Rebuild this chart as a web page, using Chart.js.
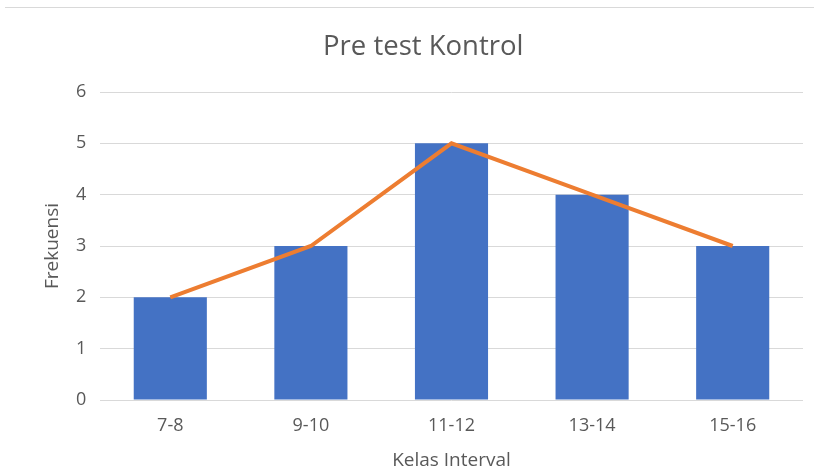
<!DOCTYPE html>
<html lang="id">
<head>
    <meta charset="UTF-8">
    <title>Pre test Kontrol</title>
    <script src="https://cdn.jsdelivr.net/npm/chart.js"></script>
    <style>
        html, body { margin: 0; padding: 0; background: #fff; }
        .wrap { position: relative; width: 814px; height: 470px; }
        .garis-atas { position: absolute; left: 5px; right: 0; top: 7px; border-top: 1px solid #d9d9d9; }
        #grafik { position: absolute; left: 0; top: 0; }
    </style>
</head>
<body>
<div class="wrap">
    <div class="garis-atas"></div>
    <canvas id="grafik" width="814" height="470"></canvas>
</div>
<script>
    const kelas = ['7-8', '9-10', '11-12', '13-14', '15-16'];
    const frekuensi = [2, 3, 5, 4, 3];
    const garisFrekuensi = [2, 3, 5, 4, 3];
    const yTicks = [0, 1, 2, 3, 4, 5, 6];

    const abu = '#595959';
    const font = 'Open Sans';

    new Chart(document.getElementById('grafik'), {
        data: {
            labels: kelas,
            datasets: [
                {
                    type: 'line',
                    label: 'Frekuensi (garis)',
                    data: garisFrekuensi,
                    borderColor: '#ED7D31',
                    borderWidth: 4,
                    pointRadius: 0,
                    tension: 0,
                    order: 0
                },
                {
                    type: 'bar',
                    label: 'Frekuensi',
                    data: frekuensi,
                    backgroundColor: '#4472C4',
                    barPercentage: 0.52,
                    categoryPercentage: 1,
                    order: 1
                }
            ]
        },
        options: {
            responsive: false,
            animation: false,
            layout: { padding: { top: 31, right: 11, bottom: 0, left: 43.5 } },
            plugins: {
                legend: { display: false },
                tooltip: { enabled: false },
                title: {
                    display: true,
                    text: 'Pre test Kontrol',
                    color: abu,
                    font: { family: font, size: 27.5, weight: 'normal' },
                    padding: { top: 0, bottom: 28 }
                }
            },
            scales: {
                x: {
                    grid: { display: false, drawTicks: false },
                    border: { display: false },
                    ticks: { color: abu, font: { family: font, size: 18 }, padding: 14.7 },
                    title: {
                        display: true,
                        text: 'Kelas Interval',
                        color: abu,
                        font: { family: font, size: 19, lineHeight: 1 },
                        padding: { top: 0, bottom: 0 }
                    }
                },
                y: {
                    min: 0,
                    max: 6,
                    afterBuildTicks: axis => { axis.ticks = yTicks.map(v => ({ value: v })); },
                    grid: { color: '#d9d9d9', lineWidth: 1, drawTicks: false },
                    border: { display: false },
                    ticks: { color: abu, font: { family: font, size: 18 }, padding: 13.6 },
                    title: {
                        display: true,
                        text: 'Frekuensi',
                        color: abu,
                        font: { family: font, size: 19, lineHeight: 1 },
                        padding: { top: 0, bottom: 0 }
                    }
                }
            }
        }
    });
</script>
</body>
</html>
